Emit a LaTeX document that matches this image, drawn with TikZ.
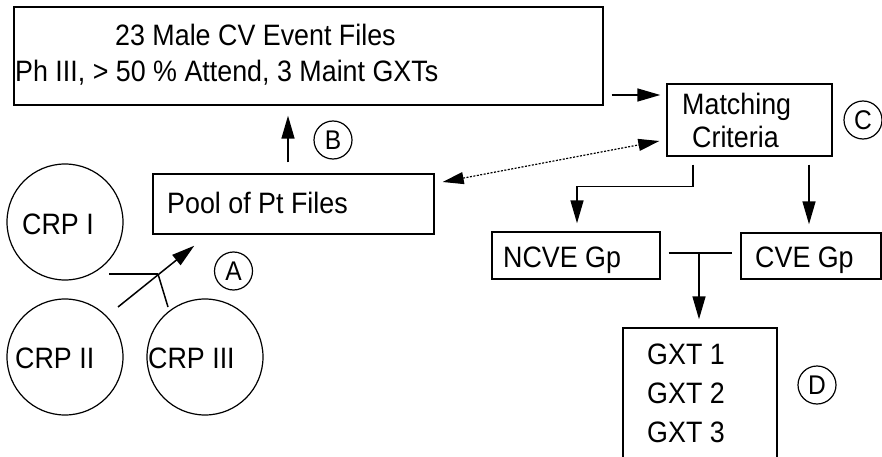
\documentclass[tikz,border=0pt]{standalone}
\usepackage{fontspec}
\setmainfont[FakeStretch=0.91]{Liberation Sans}
\usetikzlibrary{arrows.meta,calc}

\tikzset{
  box/.style={draw, line width=1.4pt, rectangle, inner sep=0pt, anchor=center},
  crp/.style={draw, line width=1.2pt, circle, inner sep=0pt, minimum size=116pt},
  tag/.style={draw, line width=1.2pt, circle, inner sep=0pt, minimum size=38pt,
              font=\fontsize{27}{30}\selectfont},
  txt/.style={anchor=base west, inner sep=0pt, font=\fontsize{29.5}{33}\selectfont},
  link/.style={line width=1.5pt},
  arr/.style={line width=1.5pt, -{Triangle[length=23pt,width=13pt]}},
  dotlink/.style={line width=1.2pt, dash pattern=on 2pt off 1.5pt,
                  {Triangle[length=21pt,width=12pt]}-{Triangle[length=21pt,width=12pt]}},
}

\begin{document}
\begin{tikzpicture}[x=1pt,y=-1pt]
  \useasboundingbox (0,0) rectangle (882,457);
  \clip (0,0) rectangle (882,457);

  % boxes
  \node[box, minimum width=589pt, minimum height=98pt] (top)   at (308.5,56)  {};
  \node[box, minimum width=165pt, minimum height=72pt] (match) at (749.5,120) {};
  \node[box, minimum width=281pt, minimum height=60pt] (pool)  at (293.5,204) {};
  \node[box, minimum width=168pt, minimum height=47pt] (ncve)  at (576,255.5) {};
  \node[box, minimum width=140pt, minimum height=46pt] (cve)   at (811,256)   {};
  \node[box, minimum width=154pt, minimum height=142pt] (gxt)  at (700,399)   {};

  % box texts
  \node[txt] (t1) at (115,46)  {23 Male CV Event Files};
  \node[txt] (t2) at (15,82)   {Ph III, > 50 \% Attend, 3 Maint GXTs};
  \node[txt] (m1) at (682,115) {Matching};
  \node[txt] (m2) at (692,147) {Criteria};
  \node[txt] (p1) at (167,213) {Pool of Pt Files};
  \node[txt] (n1) at (503,267) {NCVE Gp};
  \node[txt] (c1) at (755,267) {CVE Gp};
  \node[txt] (g1) at (647,364) {GXT 1};
  \node[txt] (g2) at (647,403) {GXT 2};
  \node[txt] (g3) at (647,442) {GXT 3};

  % program circles
  \node[crp] (crp1) at (65,222)  {};
  \node[crp] (crp2) at (65,357)  {};
  \node[crp] (crp3) at (205,357) {};
  \node[txt] (r1) at (22,234)  {CRP I};
  \node[txt] (r2) at (15,368)  {CRP II};
  \node[txt] (r3) at (148,368) {CRP III};

  % step tags
  \node[tag] (tagA) at (233.5,271) {A};
  \node[tag] (tagB) at (333,140)   {B};
  \node[tag] (tagC) at (863,120)   {C};
  \node[tag] (tagD) at (817,385)   {D};

  % merging the three programs into the pool
  \coordinate (j1) at (158,274);
  \draw[link] ($(crp1.center)+(44,52)$) -- (j1);
  \draw[link] (j1) -- ($(crp3.center)+(-37,-50)$);
  \draw[arr]  ($(crp2.center)+(53,-50)$) -- ($(pool.south west)+(42,11)$);

  % pool up to the event files
  \draw[arr] ($(pool.north)+(-5.5,-11)$) -- ($(top.south)+(-20.5,10)$);

  % event files to the matching criteria
  \coordinate (ylev) at (0,95);
  \draw[arr] ($(top.east |- ylev)+(8,0)$) -- ($(match.west |- ylev)+(-6,0)$);

  % matching criteria back to the pool
  \draw[dotlink] ($(pool.east)+(8,-22)$) -- ($(match.west)+(-7,21)$);

  % matching criteria into the two groups
  \draw[arr] ($(match.south)+(-56.5,8)$) |- ($(ncve.north)+(1,-45)$) -- ($(ncve.north)+(1,-8)$);
  \draw[arr] ($(match.south)+(59.5,8)$) -- ($(cve.north)+(-2,-8)$);

  % both groups into the tests
  \coordinate (j2) at (699,253);
  \draw[link] ($(ncve.east)+(8,-2.5)$) -- ($(cve.west)+(-8,-3)$);
  \draw[arr] (j2) -- ($(gxt.north)+(-1,-8)$);
\end{tikzpicture}
\end{document}
